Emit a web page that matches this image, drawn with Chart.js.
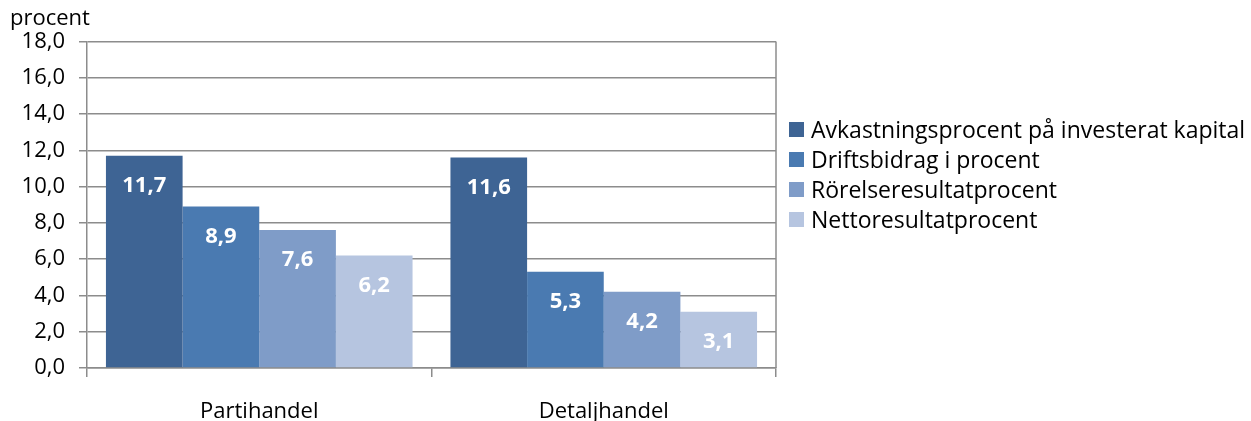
<!DOCTYPE html>
<html>
<head>
<meta charset="utf-8">
<script src="https://cdn.jsdelivr.net/npm/chart.js@4.4.1/dist/chart.umd.min.js"></script>
<style>
  body { margin: 0; background: #fff; }
  #wrap { position: relative; width: 1251px; height: 421px; }
  #legend { position: absolute; left: 789px; top: 114px; font-family: 'Open Sans', sans-serif; font-size: 23px; color: #000; }
  .item { display: flex; align-items: center; height: 30px; white-space: nowrap; }
  .box { width: 15px; height: 15px; margin-right: 7px; flex: none; }
</style>
</head>
<body>
<div id="wrap">
  <canvas id="chart"></canvas>
  <div id="legend"></div>
</div>
<script>
// Data
const categories = ['Partihandel', 'Detaljhandel'];
const seriesNames = [
  'Avkastningsprocent på investerat kapital',
  'Driftsbidrag i procent',
  'Rörelseresultatprocent',
  'Nettoresultatprocent',
];
const avkastning = [11.7, 11.6];
const driftsbidrag = [8.9, 5.3];
const rorelse = [7.6, 4.2];
const netto = [6.2, 3.1];

const COLORS = ['#3e6494', '#4a7ab1', '#7f9cc8', '#b6c5e0'];
const GRID = '#8c8c8c';
const FONT = "'Open Sans', sans-serif";

const fmt = v => Number(v).toFixed(1).replace('.', ',');

// White value labels a fixed distance below the bar top.
const valueLabels = {
  id: 'valueLabels',
  afterDatasetsDraw(chart) {
    const ctx = chart.ctx;
    ctx.save();
    ctx.fillStyle = '#fff';
    ctx.font = `bold 22px ${FONT}`;
    ctx.textAlign = 'center';
    ctx.textBaseline = 'middle';
    chart.data.datasets.forEach((ds, i) => {
      chart.getDatasetMeta(i).data.forEach((bar, j) => {
        ctx.fillText(fmt(ds.data[j]), bar.x, bar.y + 30);
      });
    });
    ctx.restore();
  },
};

// Right-hand border of the plot box.
const plotBorder = {
  id: 'plotBorder',
  afterDraw(chart) {
    const { ctx, chartArea: a } = chart;
    ctx.save();
    ctx.strokeStyle = GRID;
    ctx.lineWidth = 1.5;
    ctx.beginPath();
    ctx.moveTo(a.right, a.top);
    ctx.lineTo(a.right, a.bottom);
    ctx.stroke();
    ctx.restore();
  },
};

const seriesData = [avkastning, driftsbidrag, rorelse, netto];

new Chart(document.getElementById('chart'), {
  type: 'bar',
  data: {
    labels: categories,
    datasets: seriesData.map((data, i) => ({
      label: seriesNames[i],
      data,
      backgroundColor: COLORS[i],
      borderWidth: 0,
      categoryPercentage: 0.89,
      barPercentage: 1,
    })),
  },
  options: {
    responsive: true,
    maintainAspectRatio: false,
    animation: false,
    layout: { padding: { left: 10, right: 475, top: 0, bottom: 0 } },
    plugins: {
      legend: { display: false },
      tooltip: { enabled: false },
      title: {
        display: true,
        text: 'procent',
        align: 'start',
        color: '#000',
        font: { family: FONT, size: 22, weight: 'normal' },
        padding: { top: 6, bottom: 9 },
      },
    },
    scales: {
      x: {
        grid: { drawOnChartArea: false, drawTicks: true, tickLength: 9, color: GRID, lineWidth: 1.5 },
        border: { color: GRID, width: 1.5 },
        ticks: { color: '#000', font: { family: FONT, size: 22 }, padding: 22 },
        afterFit(scale) { scale.height = 53; },
      },
      y: {
        min: 0,
        max: 18,
        ticks: { stepSize: 2, color: '#000', font: { family: FONT, size: 22 }, padding: 14, callback: v => fmt(v) },
        grid: { color: GRID, lineWidth: 1.5, tickLength: 8 },
        border: { color: GRID, width: 1.5 },
        afterFit(scale) { scale.width = 77; },
      },
    },
  },
  plugins: [valueLabels, plotBorder],
});

const legend = document.getElementById('legend');
seriesNames.forEach((name, i) => {
  const item = document.createElement('div');
  item.className = 'item';
  item.innerHTML = `<span class="box" style="background:${COLORS[i]}"></span><span>${name}</span>`;
  legend.appendChild(item);
});
</script>
</body>
</html>
